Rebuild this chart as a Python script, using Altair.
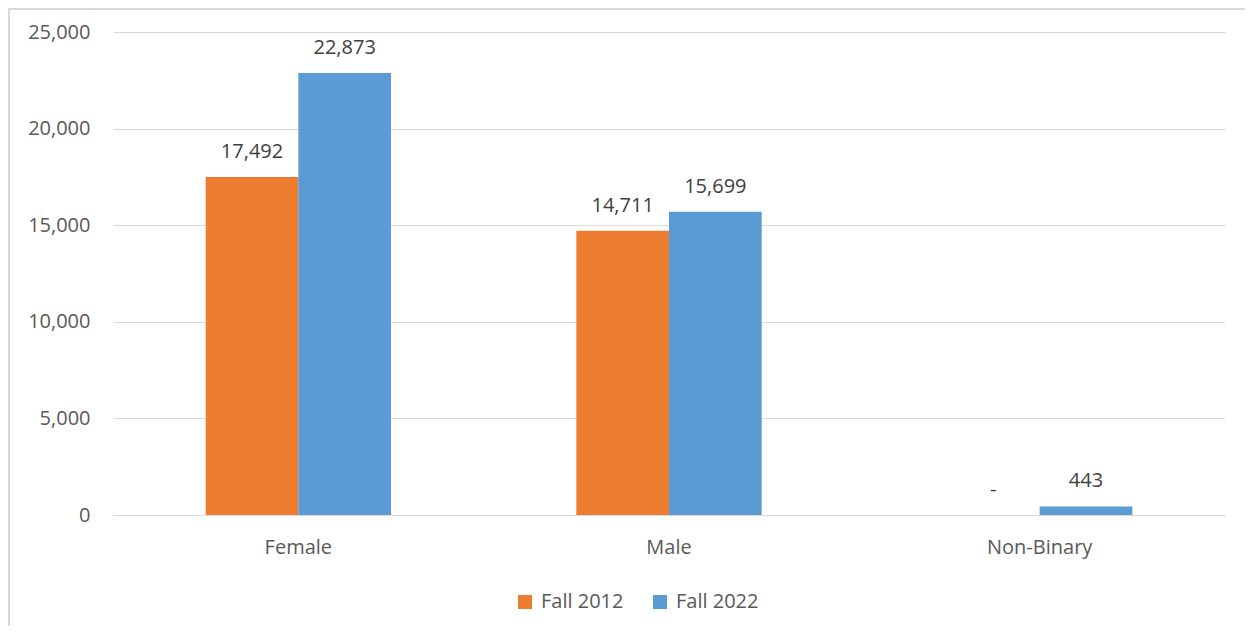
import altair as alt
import pandas as pd

categories = ["Female", "Female", "Male", "Male", "Non-Binary", "Non-Binary"]
terms = ["Fall 2012", "Fall 2022", "Fall 2012", "Fall 2022", "Fall 2012", "Fall 2022"]
values = [17492, 22873, 14711, 15699, 0, 443]
labels = ["17,492", "22,873", "14,711", "15,699", "-", "443"]

df = pd.DataFrame({"Gender": categories, "Term": terms, "Count": values, "Label": labels})

FONT = "Open Sans"
FS = 20
W, H = 1112, 483
PL, PT, PR, PB = 105, 24, 20, 111

xenc = alt.X("Gender:N", sort=["Female", "Male", "Non-Binary"],
             scale=alt.Scale(paddingInner=0.5, paddingOuter=0.25),
             axis=alt.Axis(title=None, labelAngle=0, labelFontSize=FS, labelColor="#595959",
                           labelFont=FONT, ticks=False, domain=True, domainColor="#d9d9d9",
                           labelPadding=22, labelBaseline="top", grid=False))
yenc = alt.Y("Count:Q", scale=alt.Scale(domain=[0, 25000], nice=False),
             axis=alt.Axis(title=None, values=[0, 5000, 10000, 15000, 20000, 25000], format=",.0f",
                           labelFontSize=FS, labelColor="#595959", labelFont=FONT,
                           ticks=False, domain=False, gridColor="#d9d9d9", labelPadding=23))
color = alt.Color("Term:N", scale=alt.Scale(domain=["Fall 2012", "Fall 2022"],
                                            range=["#ED7D31", "#5B9BD5"]),
                  legend=alt.Legend(title=None, orient="none", direction="horizontal",
                                    legendX=402, legendY=560, symbolType="square",
                                    symbolSize=196, symbolStrokeWidth=0, labelFontSize=FS,
                                    labelFont=FONT, labelColor="#595959", columnPadding=26,
                                    labelOffset=6, padding=0))

bars = alt.Chart(df).mark_bar().encode(
    x=xenc, xOffset=alt.XOffset("Term:N", sort=["Fall 2012", "Fall 2022"]),
    y=yenc, color=color)

text = alt.Chart(df).mark_text(baseline="alphabetic", dy=-19, fontSize=FS, font=FONT,
                               color="#404040").encode(
    x=alt.X("Gender:N", sort=["Female", "Male", "Non-Binary"]),
    xOffset=alt.XOffset("Term:N", sort=["Fall 2012", "Fall 2022"]),
    y="Count:Q", text="Label:N")

border_left = alt.Chart(alt.Data(values=[{}])).mark_rule(color="#d9d9d9", strokeWidth=2).encode(
    x=alt.value(-PL + 1), y=alt.value(-PT), y2=alt.value(H + PB))
border_top = alt.Chart(alt.Data(values=[{}])).mark_rule(color="#d9d9d9", strokeWidth=2).encode(
    x=alt.value(-PL), x2=alt.value(W + PR), y=alt.value(-PT + 1))

chart = alt.layer(bars, text, border_left, border_top).properties(
    width=W, height=H,
    autosize=alt.AutoSizeParams(type="none"),
    padding={"left": PL, "top": PT, "right": PR, "bottom": PB},
).configure_view(stroke=None)

chart.save("out.html", embed_options={"renderer": "svg", "actions": False})
